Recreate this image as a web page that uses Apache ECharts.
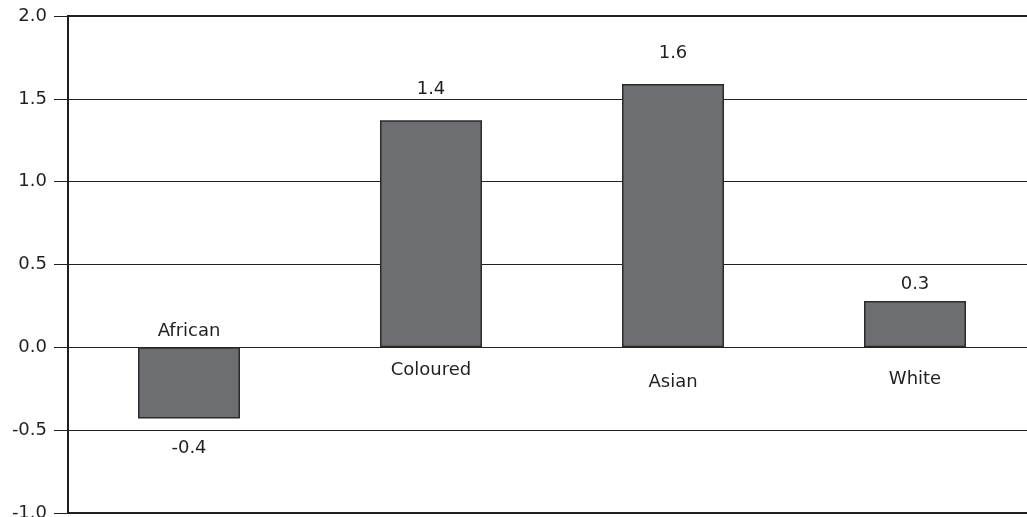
<!DOCTYPE html>
<html>
<head>
<meta charset="utf-8">
<script src="https://cdn.jsdelivr.net/npm/echarts@6/dist/echarts.min.js"></script>
<style>
  html, body { margin: 0; padding: 0; background: #ffffff; }
  #chart { width: 1027px; height: 517px; }
</style>
</head>
<body>
<div id="chart"></div>
<script>
// Population groups and their values
const groups = ['African', 'Coloured', 'Asian', 'White'];
const values = [-0.43, 1.37, 1.59, 0.28];

// Value axis range and ticks
const yMin = -1.0;
const yMax = 2.0;
const yStep = 0.5;

// Gap between each bar and its value label (px)
const valueLabelGap = [21, 22, 22, 8];
// Gap between the zero line and each group name (px)
const nameLabelGap = [7, 14, 26, 23];

const ink = '#231f20';
const font = 'DejaVu Sans';
const fontSize = 18;

const chart = echarts.init(document.getElementById('chart'), null, { renderer: 'canvas' });

chart.setOption({
  animation: false,
  backgroundColor: '#ffffff',
  grid: {
    left: 68,
    top: 16,
    bottom: 4,
    width: 968,
    outerBoundsMode: 'none',
    containLabel: false,
    show: true,
    borderColor: ink,
    borderWidth: 2,
    backgroundColor: 'transparent'
  },
  xAxis: {
    type: 'category',
    data: groups,
    axisLine: { show: false },
    axisTick: { show: false },
    axisLabel: { show: false },
    splitLine: { show: false }
  },
  yAxis: {
    type: 'value',
    min: yMin,
    max: yMax,
    interval: yStep,
    axisLine: { show: true, lineStyle: { color: ink, width: 1.5 } },
    axisTick: { show: true, length: 14, lineStyle: { color: ink, width: 1 } },
    axisLabel: {
      margin: 21,
      fontFamily: font,
      fontSize: fontSize,
      color: ink,
      formatter: function (v) { return v.toFixed(1); }
    },
    splitLine: { show: true, lineStyle: { color: ink, width: 1 } }
  },
  series: [
    {
      type: 'bar',
      barWidth: 102,
      data: values.map(function (v, i) {
        return { value: v, label: { distance: valueLabelGap[i] } };
      }),
      itemStyle: {
        color: '#6d6e71',
        borderColor: '#2b2b2b',
        borderWidth: 1.5
      },
      label: {
        show: true,
        position: 'outside',
        fontFamily: font,
        fontSize: fontSize,
        color: ink,
        formatter: function (p) { return p.value.toFixed(1); }
      }
    },
    {
      // Group names sit on the zero line, on the side away from each bar
      type: 'scatter',
      symbolSize: 0,
      silent: true,
      z: 5,
      itemStyle: { opacity: 1, color: 'transparent' },
      data: groups.map(function (g, i) {
        return {
          value: [g, 0],
          name: g,
          label: {
            position: values[i] < 0 ? 'top' : 'bottom',
            distance: nameLabelGap[i]
          }
        };
      }),
      label: {
        show: true,
        fontFamily: font,
        fontSize: fontSize,
        color: ink,
        opacity: 1,
        formatter: function (p) { return p.name; }
      }
    }
  ]
});
</script>
</body>
</html>
